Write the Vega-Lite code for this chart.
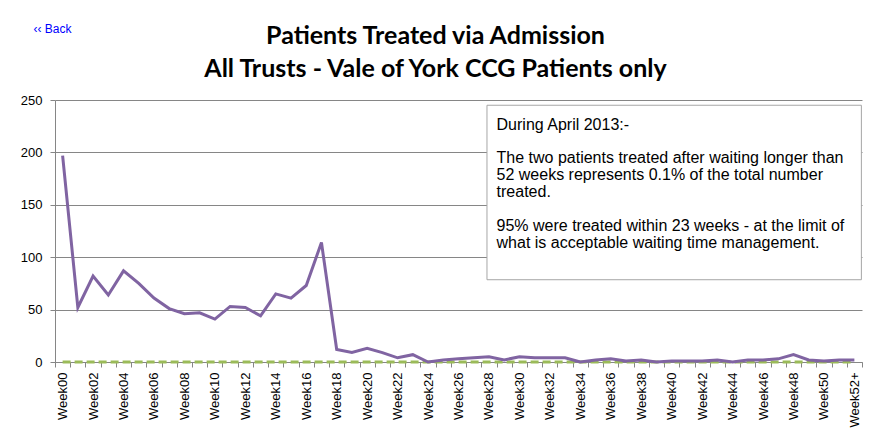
{
  "$schema": "https://vega.github.io/schema/vega-lite/v6.json",
  "width": 807,
  "height": 262,
  "autosize": {"type": "none"},
  "padding": {"left": 55, "top": 100, "right": 10, "bottom": 74},
  "background": "white",
  "title": {
    "text": ["Patients Treated via Admission", "All Trusts - Vale of York CCG Patients only"],
    "font": "Lato",
    "fontSize": 25,
    "fontWeight": "bold",
    "color": "#000000",
    "lineHeight": 33,
    "anchor": "middle",
    "dx": -23,
    "offset": -60
  },
  "config": {
    "view": {"stroke": null},
    "font": "Liberation Sans"
  },
  "datasets": {
    "weeks": [
      {"week": "Week00", "patients": 197, "other": 0},
      {"week": "Week01", "patients": 52, "other": 0},
      {"week": "Week02", "patients": 82, "other": 0},
      {"week": "Week03", "patients": 64, "other": 0},
      {"week": "Week04", "patients": 87, "other": 0},
      {"week": "Week05", "patients": 75, "other": 0},
      {"week": "Week06", "patients": 61, "other": 0},
      {"week": "Week07", "patients": 51, "other": 0},
      {"week": "Week08", "patients": 46, "other": 0},
      {"week": "Week09", "patients": 47, "other": 0},
      {"week": "Week10", "patients": 41, "other": 0},
      {"week": "Week11", "patients": 53, "other": 0},
      {"week": "Week12", "patients": 52, "other": 0},
      {"week": "Week13", "patients": 44, "other": 0},
      {"week": "Week14", "patients": 65, "other": 0},
      {"week": "Week15", "patients": 61, "other": 0},
      {"week": "Week16", "patients": 73, "other": 0},
      {"week": "Week17", "patients": 114, "other": 0},
      {"week": "Week18", "patients": 12, "other": 0},
      {"week": "Week19", "patients": 9, "other": 0},
      {"week": "Week20", "patients": 13, "other": 0},
      {"week": "Week21", "patients": 9, "other": 0},
      {"week": "Week22", "patients": 4, "other": 0},
      {"week": "Week23", "patients": 7, "other": 0},
      {"week": "Week24", "patients": 0, "other": 0},
      {"week": "Week25", "patients": 2, "other": 0},
      {"week": "Week26", "patients": 3, "other": 0},
      {"week": "Week27", "patients": 4, "other": 0},
      {"week": "Week28", "patients": 5, "other": 0},
      {"week": "Week29", "patients": 2, "other": 0},
      {"week": "Week30", "patients": 5, "other": 0},
      {"week": "Week31", "patients": 4, "other": 0},
      {"week": "Week32", "patients": 4, "other": 0},
      {"week": "Week33", "patients": 4, "other": 0},
      {"week": "Week34", "patients": 0, "other": 0},
      {"week": "Week35", "patients": 2, "other": 0},
      {"week": "Week36", "patients": 3, "other": 0},
      {"week": "Week37", "patients": 1, "other": 0},
      {"week": "Week38", "patients": 2, "other": 0},
      {"week": "Week39", "patients": 0, "other": 0},
      {"week": "Week40", "patients": 1, "other": 0},
      {"week": "Week41", "patients": 1, "other": 0},
      {"week": "Week42", "patients": 1, "other": 0},
      {"week": "Week43", "patients": 2, "other": 0},
      {"week": "Week44", "patients": 0, "other": 0},
      {"week": "Week45", "patients": 2, "other": 0},
      {"week": "Week46", "patients": 2, "other": 0},
      {"week": "Week47", "patients": 3, "other": 0},
      {"week": "Week48", "patients": 7, "other": 0},
      {"week": "Week49", "patients": 2, "other": 0},
      {"week": "Week50", "patients": 1, "other": 0},
      {"week": "Week51", "patients": 2, "other": 0},
      {"week": "Week52+", "patients": 2, "other": 0}
    ],
    "box": [
      {"x": "Week28", "x2": "Week52+", "top": 245, "bottom": 78.5}
    ],
    "note": [
      {"x": "Week29", "y": 234.2, "label": ["During April 2013:-"]},
      {"x": "Week29", "y": 201.9, "label": ["The two patients treated after waiting longer than", "52 weeks represents 0.1% of the total number", "treated."]},
      {"x": "Week29", "y": 137.1, "label": ["95% were treated within 23 weeks - at the limit of", "what is acceptable waiting time management."]}
    ]
  },
  "encoding": {
    "x": {
      "field": "week", "type": "ordinal", "sort": null,
      "scale": {"paddingInner": 0, "paddingOuter": 0},
      "axis": {
        "orient": "bottom",
        "title": null,
        "ticks": true,
        "tickBand": "extent",
        "tickColor": "#868686",
        "tickSize": 5,
        "domain": true,
        "domainColor": "#868686",
        "domainWidth": 1,
        "labelAngle": -90,
        "labelAlign": "right",
        "labelBaseline": "middle",
        "labelFontSize": 13,
        "labelColor": "#000000",
        "labelPadding": 5,
        "labelExpr": "parseInt(substring(datum.value, 4, 6)) % 2 == 0 ? datum.value : ''"
      }
    }
  },
  "layer": [
    {
      "data": {"name": "weeks"},
      "mark": {"type": "line", "color": "#9BBB59", "strokeWidth": 3, "strokeDash": [8, 4]},
      "encoding": {
        "y": {
          "field": "other", "type": "quantitative",
          "scale": {"domain": [0, 250], "nice": false},
          "axis": {
            "title": "‹‹ Back",
            "titleAngle": 0,
            "titleAlign": "left",
            "titleBaseline": "alphabetic",
            "titleX": -22,
            "titleY": -68,
            "titleColor": "#0000FF",
            "titleFontSize": 12,
            "titleFontWeight": "normal",
            "titleFont": "Liberation Sans",
            "values": [0, 50, 100, 150, 200, 250],
            "grid": true,
            "gridColor": "#868686",
            "gridWidth": 1,
            "domainColor": "#868686",
            "tickColor": "#868686",
            "tickSize": 5,
            "labelFontSize": 13,
            "labelColor": "#000000",
            "labelPadding": 8
          }
        }
      }
    },
    {
      "data": {"name": "weeks"},
      "mark": {"type": "line", "color": "#8064A2", "strokeWidth": 3},
      "encoding": {
        "y": {"field": "patients", "type": "quantitative"}
      }
    },
    {
      "data": {"name": "box"},
      "mark": {"type": "rect", "fill": "white", "stroke": "#A6A6A6", "strokeWidth": 1, "x2Offset": 7},
      "encoding": {
        "x": {"field": "x", "type": "ordinal", "bandPosition": 0.37, "sort": null},
        "x2": {"field": "x2"},
        "y": {"field": "top", "type": "quantitative"},
        "y2": {"field": "bottom"}
      }
    },
    {
      "data": {"name": "note"},
      "mark": {"type": "text", "align": "left", "baseline": "top", "fontSize": 16, "lineHeight": 17, "font": "Liberation Sans", "color": "#000000"},
      "encoding": {
        "x": {"field": "x", "type": "ordinal", "bandPosition": 0, "sort": null},
        "y": {"field": "y", "type": "quantitative"},
        "text": {"field": "label"}
      }
    }
  ]
}
